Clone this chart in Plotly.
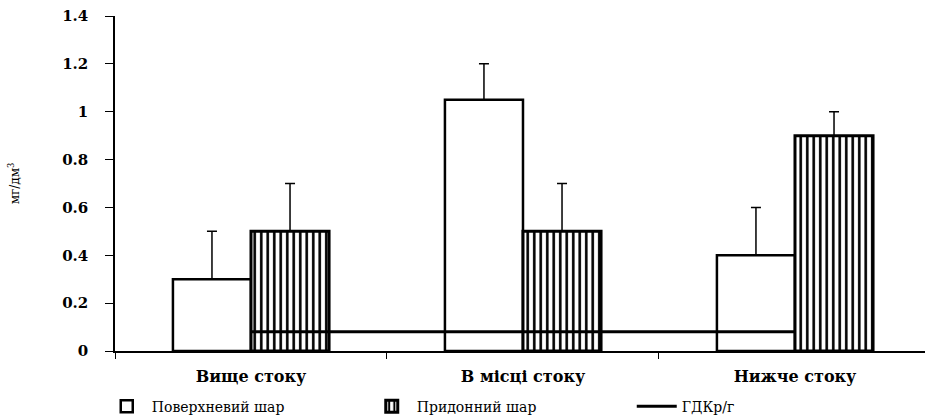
import plotly.graph_objects as go

categories = ["Вище стоку", "В місці стоку", "Нижче стоку"]
surface = [0.3, 1.05, 0.4]
surface_err = [0.2, 0.15, 0.2]
bottom = [0.5, 0.5, 0.9]
bottom_err = [0.2, 0.2, 0.1]
gdk = [0.08, 0.08, 0.08]
names = ["Поверхневий шар", "Придонний шар", "ГДКр/г"]
y_ticks = [0, 0.2, 0.4, 0.6, 0.8, 1, 1.2, 1.4]
y_tick_text = ["0", "0.2", "0.4", "0.6", "0.8", "1", "1.2", "1.4"]

SERIF = "DejaVu Serif"

fig = go.Figure()
fig.add_trace(go.Bar(
    x=categories, y=surface, name=names[0],
    marker=dict(color="white", line=dict(color="black", width=2.5)),
    error_y=dict(type="data", array=surface_err, symmetric=False,
                 arrayminus=[0, 0, 0], color="black", thickness=1.5, width=5),
))
fig.add_trace(go.Bar(
    x=categories, y=bottom, name=names[1],
    marker=dict(color="white", line=dict(color="black", width=3),
                pattern=dict(shape="|", fgcolor="black", bgcolor="white",
                             fgopacity=1, size=6.5, solidity=0.4)),
    error_y=dict(type="data", array=bottom_err, symmetric=False,
                 arrayminus=[0, 0, 0], color="black", thickness=1.5, width=5),
))
fig.add_trace(go.Scatter(
    x=categories, y=gdk, name=names[2], mode="lines",
    line=dict(color="black", width=3),
))

fig.update_layout(
    width=925, height=415,
    margin=dict(l=115, r=0, t=16, b=64),
    plot_bgcolor="white", paper_bgcolor="white",
    barmode="group", bargap=0.426, bargroupgap=0,
    font=dict(family=SERIF, color="black"),
    showlegend=True,
    legend=dict(orientation="h", xref="container", yref="container",
                x=0.11, xanchor="left", y=0.02, yanchor="middle",
                entrywidth=210, entrywidthmode="pixels",
                font=dict(family=SERIF, size=14), itemwidth=40,
                bgcolor="rgba(0,0,0,0)"),
)
fig.update_xaxes(
    range=[-0.5, 2.478], showline=True, linecolor="black", linewidth=1.5,
    ticks="outside", tickson="boundaries", ticklen=6, tickcolor="black",
    tickfont=dict(family=SERIF, size=16, weight="bold"),
    ticklabelstandoff=10, showgrid=False, zeroline=False, automargin=False,
)
fig.update_yaxes(
    range=[0, 1.4], tickvals=y_ticks, ticktext=y_tick_text,
    showline=True, linecolor="black", linewidth=1.5,
    ticks="outside", ticklen=8, tickcolor="black",
    tickfont=dict(family=SERIF, size=15, weight="bold"),
    ticklabelstandoff=14, showgrid=False, zeroline=False, automargin=False,
    title=dict(text="мг/дм<sup>3</sup>", font=dict(family=SERIF, size=12),
               standoff=40),
)

fig.write_html("out.html", config={"displayModeBar": False},
               post_script="document.body.style.margin='0';")
